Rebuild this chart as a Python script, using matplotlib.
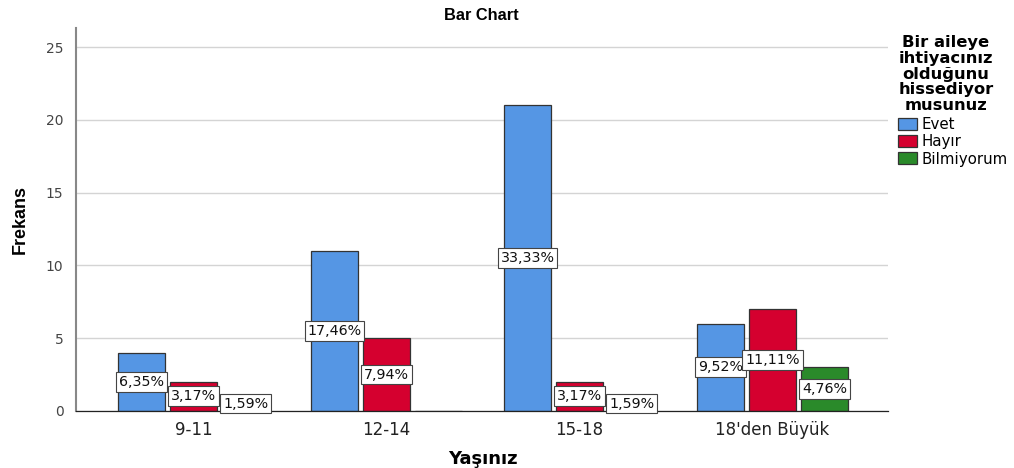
import matplotlib
matplotlib.use("Agg")
import matplotlib.pyplot as plt
import numpy as np
from matplotlib.patches import Patch

categories = ["9-11", "12-14", "15-18", "18'den Büyük"]
series_names = ["Evet", "Hayır", "Bilmiyorum"]
evet = [4, 11, 21, 6]
hayir = [2, 5, 2, 7]
bilmiyorum = [1, 0, 1, 3]
yticks = [0, 5, 10, 15, 20, 25]

colors = ["#5596E4", "#D5002F", "#2A8A2A"]
EDGE = "#333333"
GRID = "#D4D4D4"
series = [evet, hayir, bilmiyorum]
total = sum(sum(s) for s in series)

fig = plt.figure(figsize=(10.14, 4.68), dpi=100, facecolor="white")
ax = fig.add_axes([0.075, 0.122, 0.801, 0.818])

x = np.arange(len(categories))
step, width = 0.27, 0.245
for i, (vals, col) in enumerate(zip(series, colors)):
    xs = x + (i - 1) * step
    ax.bar(xs, vals, width=width, color=col, edgecolor=EDGE, linewidth=0.9, zorder=2)
    for xi, v in zip(xs, vals):
        if v == 0:
            continue
        pct = f"{v / total * 100:.2f}%".replace(".", ",")
        ax.text(xi, v / 2, pct, ha="center", va="center", fontsize=10.3,
                fontfamily="DejaVu Sans", color="#111111", zorder=4,
                bbox=dict(boxstyle="square,pad=0.2", fc="white", ec="#444444", lw=0.8))

ax.set_xlim(-0.61, 3.60)
ax.set_ylim(0, 26.3)
ax.set_yticks(yticks)
ax.set_yticklabels([str(t) for t in yticks], fontsize=10, color="#444444",
                   fontfamily="DejaVu Sans")
ax.set_xticks(x)
ax.set_xticklabels(categories, fontsize=12, color="#222222", fontfamily="DejaVu Sans")
ax.tick_params(axis="both", length=0)
ax.tick_params(axis="y", pad=9)
ax.tick_params(axis="x", pad=7)
ax.yaxis.grid(True, color=GRID, linewidth=1, zorder=0)
ax.set_axisbelow(True)
for s in ["top", "right"]:
    ax.spines[s].set_visible(False)
ax.spines["left"].set_color("#888888")
ax.spines["left"].set_linewidth(1.5)
ax.spines["bottom"].set_color("#222222")
ax.spines["bottom"].set_linewidth(0.9)

fig.text(0.475, 0.967, "Bar Chart", ha="center", va="center", fontsize=11.8,
         fontweight="bold", family=["Liberation Sans", "DejaVu Sans"])
fig.text(0.02, 0.53, "Frekans", ha="center", va="center", rotation=90, fontsize=13,
         fontweight="bold", family=["Liberation Sans Narrow", "Liberation Sans", "DejaVu Sans"])
fig.text(0.476, 0.02, "Yaşınız", ha="center", va="center", fontsize=13,
         fontweight="bold", family="DejaVu Sans")

handles = [Patch(facecolor=c, edgecolor=EDGE, linewidth=0.9, label=n)
           for c, n in zip(colors, series_names)]
leg = fig.legend(handles=handles, loc="upper left", bbox_to_anchor=(0.886, 0.925),
                 title="Bir aileye\nihtiyacınız\nolduğunu\nhissediyor\nmusunuz",
                 title_fontproperties={"weight": "bold", "size": 11.8, "family": "DejaVu Sans"},
                 prop={"size": 10.8, "family": "DejaVu Sans"},
                 frameon=False, handlelength=1.25, handleheight=0.85, handletextpad=0.3,
                 labelspacing=0.15, borderpad=0.0, borderaxespad=0.0)
leg._legend_box.align = "left"
leg._legend_box.sep = 3
leg.get_title().set_multialignment("center")
leg.get_title().set_linespacing(1.06)

fig.savefig("out.png", dpi=100, facecolor="white")
